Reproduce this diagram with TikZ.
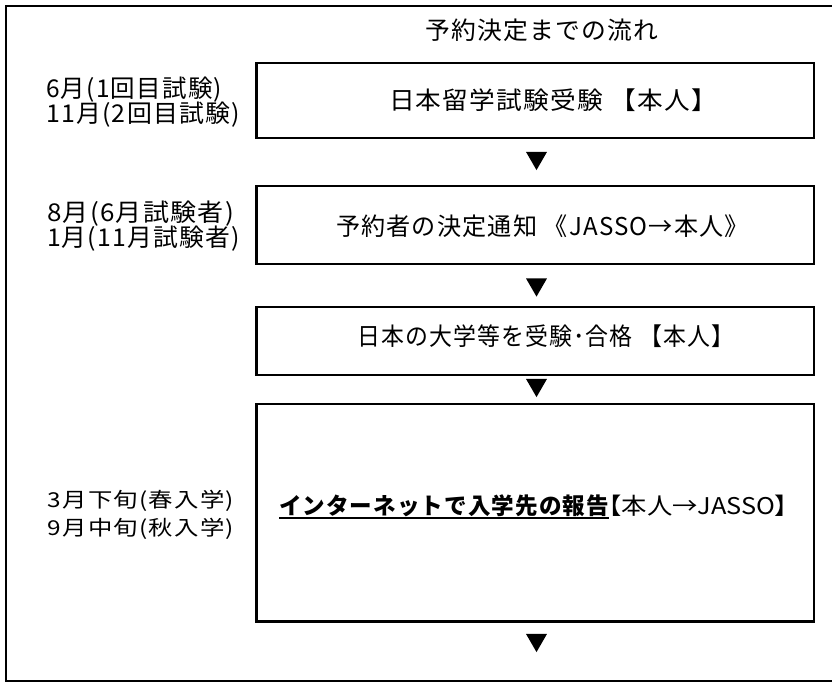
\documentclass[tikz,border=0pt]{standalone}
\usepackage{fontspec}
\usepackage{graphicx}
\setmainfont{Noto Sans CJK JP}[LetterSpace=5]
\newfontfamily\paltfont{Noto Sans CJK JP}[RawFeature=+palt]
\usetikzlibrary{shapes.geometric}
\newcommand\fitw[2]{\resizebox{#1}{\height}{#2}}
\newcommand\myul[1]{\setbox0=\hbox{#1}\rlap{\rule[-4.4pt]{\wd0}{2pt}}\box0}
\tikzset{
  txt/.style={inner sep=0pt, outer sep=0pt, font=\fontsize{24.5pt}{28pt}\selectfont, anchor=base west},
  txtsmall/.style={txt, font=\fontsize{20.5pt}{24pt}\selectfont},
  txtmid/.style={txt, font=\fontsize{23pt}{26pt}\selectfont},
  stepbox/.style={draw, line width=2.7pt, inner sep=0pt, outer sep=0pt, minimum width=557.5pt},
  tri/.style={regular polygon, regular polygon sides=3, shape border rotate=180, fill=black, inner sep=0pt, outer sep=0pt, minimum size=24.2pt},
}
\begin{document}
\begin{tikzpicture}[x=1pt,y=-1pt]
\useasboundingbox (0,0) rectangle (832,682);
\fill[white] (0,0) rectangle (832,682);
\draw[line width=2.7pt] (6,6) rectangle (834,681.3);
% boxes
\node[stepbox, minimum height=75pt] (b1) at (535.25,100.5) {};
\node[stepbox, minimum height=78pt] (b2) at (535.25,225) {};
\node[stepbox, minimum height=68pt] (b3) at (535.25,341) {};
\node[stepbox, minimum height=217.5pt] (b4) at (535.25,512.75) {};
% title and box texts
\node[txt] (title) at (425,39.3) {\fitw{233pt}{予約決定までの流れ}};
\node[txt] (t1) at (389,109.3) {\fitw{328pt}{日本留学試験受験 【本人】}};
\node[txt] (t2) at (336,235.3) {\fitw{413pt}{予約者の決定通知 《JASSO→本人》}};
\node[txt] (t3) at (357,345.3) {\fitw{377pt}{日本の大学等を受験･合格 【本人】}};
\node[txtmid] (t4) at (279,514.7) {\fitw{330pt}{\bfseries\myul{インターネットで入学先の報告}}\fitw{179pt}{\paltfont 【本人→JASSO】}};
% left labels
\node[txt] (l1a) at (46,97.3) {\fitw{176pt}{6月(1回目試験)}};
\node[txt] (l1b) at (46,122.3) {\fitw{194pt}{11月(2回目試験)}};
\node[txt] (l2a) at (47,221.3) {\fitw{187pt}{8月(6月試験者)}};
\node[txt] (l2b) at (47,246.3) {\fitw{193pt}{1月(11月試験者)}};
\node[txtsmall] (l4a) at (48,507.8) {\fitw{186pt}{3月下旬(春入学)}};
\node[txtsmall] (l4b) at (48,535.8) {\fitw{186pt}{9月中旬(秋入学)}};
% triangles
\node[tri] (a1) at (536.5,158) {};
\node[tri] (a2) at (536.5,284.5) {};
\node[tri] (a3) at (536.5,385) {};
\node[tri] (a4) at (536.5,640) {};
\end{tikzpicture}
\end{document}
